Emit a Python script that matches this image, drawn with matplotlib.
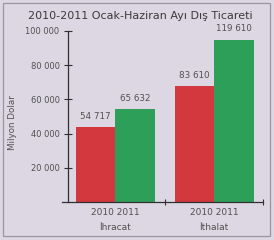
import matplotlib
matplotlib.use("Agg")
import matplotlib.pyplot as plt
from matplotlib.patches import Rectangle

categories = ["İhracat", "İthalat"]
years = ["2010", "2011"]
# bar heights as read against the printed axis
heights_2010 = [44000, 67800]
heights_2011 = [54500, 95000]
# printed value labels
labels_2010 = ["54 717", "83 610"]
labels_2011 = ["65 632", "119 610"]
yticks = [20000, 40000, 60000, 80000, 100000]
ytick_labels = ["20 000", "40 000", "60 000", "80 000", "100 000"]

bg = "#DCD7E2"
red = "#D3383F"
green = "#2E9F58"
txt = "#505050"

fig = plt.figure(figsize=(2.74, 2.4), dpi=100, facecolor=bg)
fig.patches.append(Rectangle((0.012, 0.017), 0.975, 0.97, transform=fig.transFigure,
                             fill=False, edgecolor="#9A96A0", linewidth=0.9))
ax = fig.add_axes([0.248, 0.158, 0.712, 0.713])
ax.set_facecolor(bg)

w = 0.4
xs = [0, 1]
for i, x in enumerate(xs):
    ax.bar(x - w / 2, heights_2010[i], width=w, color=red)
    ax.bar(x + w / 2, heights_2011[i], width=w, color=green)
    ax.annotate(labels_2010[i], (x - w / 2, heights_2010[i]), xytext=(0, 4.5),
                textcoords="offset points", ha="center", va="bottom",
                fontsize=6.3, color=txt)
    ax.annotate(labels_2011[i], (x + w / 2, heights_2011[i]), xytext=(0, 4.5),
                textcoords="offset points", ha="center", va="bottom",
                fontsize=6.3, color=txt)

ax.set_xlim(-0.48, 1.495)
ax.set_ylim(0, 100000)
for s in ["top", "right"]:
    ax.spines[s].set_visible(False)
ax.spines["left"].set_color("#303030")
ax.spines["bottom"].set_color("#303030")
ax.spines["left"].set_linewidth(0.9)
ax.spines["bottom"].set_linewidth(0.9)
ax.spines["bottom"].set_bounds(-0.54, 1.495)

ax.set_yticks(yticks)
ax.set_yticklabels(ytick_labels)
ax.tick_params(axis="y", direction="inout", length=6, width=0.8, color="#303030",
               labelsize=6, labelcolor=txt, pad=3)

ax.set_xticks([0.5, 1.495])
ax.set_xticklabels(["", ""])
ax.tick_params(axis="x", direction="inout", length=5, width=0.8, color="#303030")
for x, c in zip(xs, categories):
    ax.text(x, -0.035, " ".join(years), transform=ax.get_xaxis_transform(),
            ha="center", va="top", fontsize=6.5, color=txt)
    ax.text(x, -0.125, c, transform=ax.get_xaxis_transform(),
            ha="center", va="top", fontsize=6.5, color=txt)

fig.text(0.045, 0.49, "Milyon Dolar", rotation=90, ha="center", va="center",
         fontsize=6.3, color=txt)
fig.text(0.102, 0.935, "2010-2011 Ocak-Haziran Ayı Dış Ticareti", ha="left",
         va="center", fontsize=8.0, color="#3A3A3A")

fig.savefig("out.png", dpi=100, facecolor=bg)
